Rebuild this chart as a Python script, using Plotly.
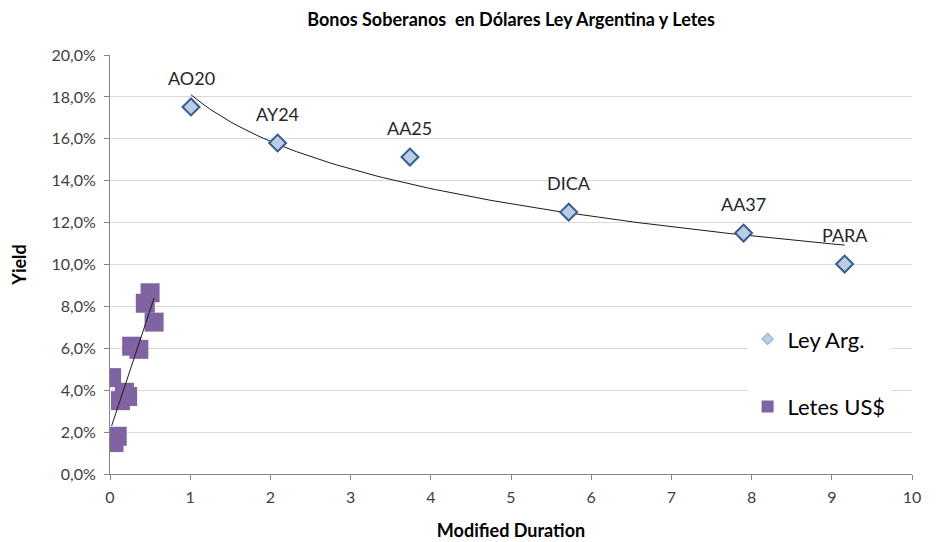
import numpy as np
import plotly.graph_objects as go

# Ley Argentina bonds
ley_names = ["AO20", "AY24", "AA25", "DICA", "AA37", "PARA"]
ley_duration = [1.01, 2.09, 3.74, 5.72, 7.90, 9.16]
ley_yield = [0.1752, 0.1580, 0.1513, 0.1250, 0.1150, 0.1002]

# Letes US$
letes_duration = [0.05, 0.09, 0.13, 0.18, 0.22, 0.02, 0.27, 0.36, 0.44, 0.50, 0.55]
letes_yield = [0.0150, 0.0180, 0.0350, 0.0390, 0.0370, 0.0460, 0.0610, 0.0595, 0.0815, 0.0865, 0.0725]

title_text = "Bonos Soberanos  en Dólares Ley Argentina y Letes"
x_title = "Modified Duration"
y_title = "Yield"

FONT = "Lato"
GRAY_TXT = "#404040"

# page body has an 8px margin; compensate so the plot sits where the reference has it
W, H = 941 - 8, 542 - 8

# trendlines (least squares, like Excel)
lx = np.array(ley_duration)
ly = np.array(ley_yield)
b, a = np.polyfit(np.log(lx), ly, 1)
tx = np.linspace(lx.min(), lx.max(), 100)
ty = a + b * np.log(tx)

ex = np.array(letes_duration)
ey = np.array(letes_yield)
m, c = np.polyfit(ex, ey, 1)
ltx = np.array([ex.min(), ex.max()])
lty = m * ltx + c

fig = go.Figure()

fig.add_trace(go.Scatter(
    x=tx, y=ty, mode="lines", line=dict(color="#1a1a1a", width=1),
    showlegend=False, hoverinfo="skip"))
fig.add_trace(go.Scatter(
    x=ley_duration, y=ley_yield, mode="markers", name="Ley Arg.",
    showlegend=False,
    marker=dict(symbol="diamond", size=13, color="#B9CDE5",
                line=dict(color="#385D8A", width=2))))
fig.add_trace(go.Scatter(
    x=letes_duration, y=letes_yield, mode="markers", name="Letes US$",
    showlegend=False,
    marker=dict(symbol="square", size=19, color="#8064A2",
                line=dict(color="#8064A2", width=0))))
fig.add_trace(go.Scatter(
    x=ltx, y=lty, mode="lines", line=dict(color="#1a1a1a", width=1),
    showlegend=False, hoverinfo="skip"))

# legend entries (smaller markers, as in the reference legend)
fig.add_trace(go.Scatter(
    x=[None], y=[None], mode="markers", name="Ley Arg.", legendgroup="a",
    marker=dict(symbol="diamond", size=9, color="#B9CDE5",
                line=dict(color="#7A9CC6", width=1))))
fig.add_trace(go.Scatter(
    x=[None], y=[None], mode="markers", name="Letes US$", legendgroup="b",
    marker=dict(symbol="square", size=12, color="#8064A2",
                line=dict(color="#8064A2", width=0))))

for n, x, y in zip(ley_names, ley_duration, ley_yield):
    fig.add_annotation(x=x, y=y, text=n, showarrow=False, yshift=29,
                       font=dict(family=FONT, size=18, color="#262626"))

fig.update_layout(
    width=W, height=H,
    paper_bgcolor="white", plot_bgcolor="white",
    separators=",.",
    margin=dict(l=102, r=29, t=47, b=68, autoexpand=False),
    title=dict(text="<b>" + title_text + "</b>", x=503 / W, xanchor="center",
               y=1 - 12 / H, yanchor="middle",
               font=dict(family=FONT, size=18, color="#000000")),
    font=dict(family=FONT, color=GRAY_TXT),
    legend=dict(x=0.795, y=0.372, xanchor="left", yanchor="top",
                bgcolor="white", traceorder="grouped", tracegroupgap=36,
                itemsizing="trace", itemwidth=30,
                font=dict(family=FONT, size=22, color="#000000")),
    xaxis=dict(range=[0, 10], dtick=1, showgrid=False, zeroline=False,
               showline=True, linecolor="#868686", linewidth=1,
               ticks="outside", ticklen=5, tickcolor="#868686",
               ticklabelstandoff=4, automargin=False,
               tickfont=dict(family=FONT, size=16, color=GRAY_TXT),
               title=dict(text="<b>" + x_title + "</b>", standoff=19,
                          font=dict(family=FONT, size=18, color="#000000"))),
    yaxis=dict(range=[0, 0.2], dtick=0.02, tickformat=".1%",
               showgrid=True, gridcolor="#D9D9D9", gridwidth=1, zeroline=False,
               showline=True, linecolor="#868686", linewidth=1,
               ticks="outside", ticklen=5, tickcolor="#868686",
               ticklabelstandoff=5, automargin=False,
               tickfont=dict(family=FONT, size=16, color=GRAY_TXT),
               title=dict(text="<b>" + y_title + "</b>", standoff=20,
                          font=dict(family=FONT, size=18, color="#000000"))),
)

fig.write_html("out.html")
